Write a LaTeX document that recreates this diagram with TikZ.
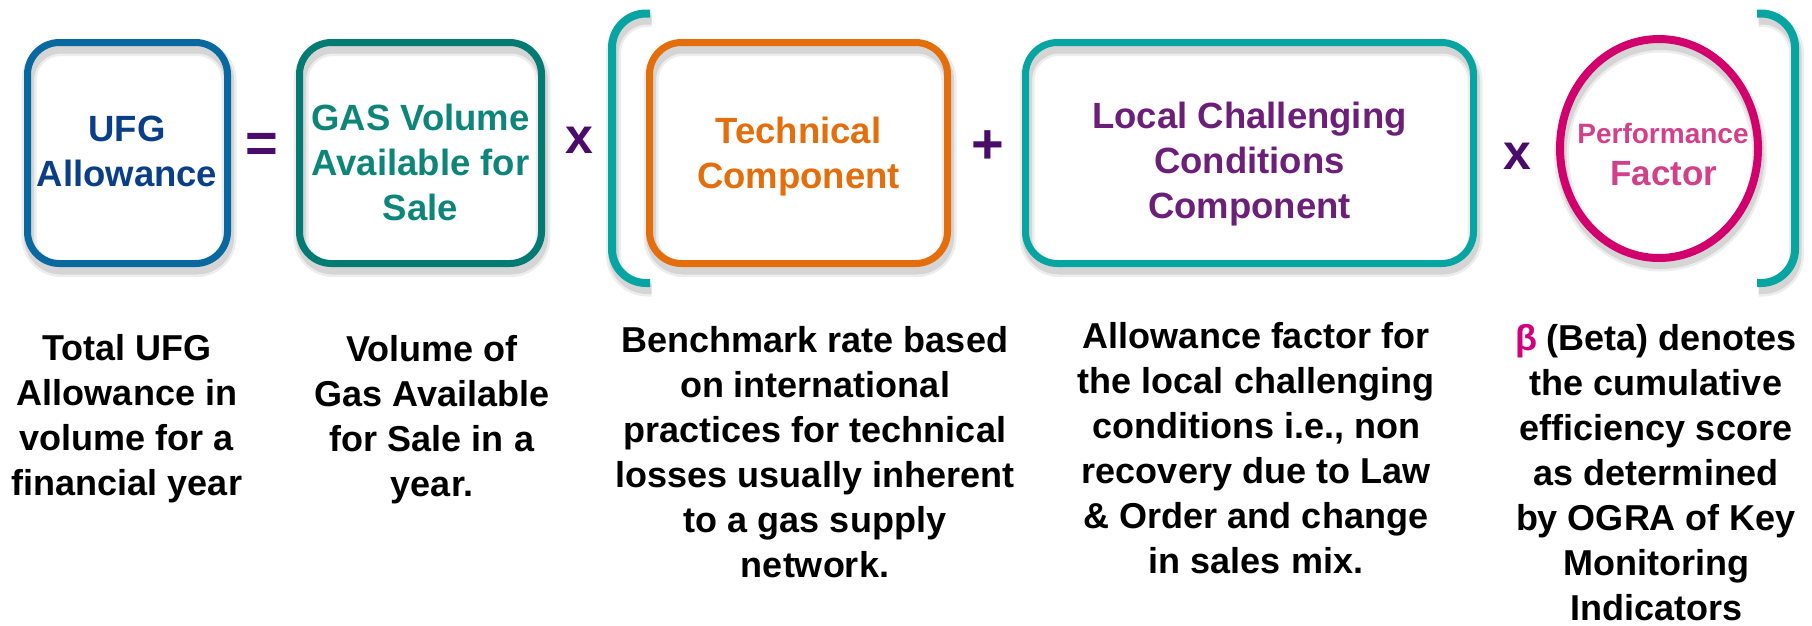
\documentclass[tikz,border=0pt]{standalone}
\usepackage{fontspec}
\setmainfont{Liberation Sans}
\usetikzlibrary{shapes.geometric}
\newcommand{\tstrut}{\rule{0pt}{0.8em}}
\definecolor{ufgblue}{HTML}{0A68A0}
\definecolor{ufgtext}{HTML}{0A3F88}
\definecolor{gasteal}{HTML}{037B73}
\definecolor{gastext}{HTML}{0E8579}
\definecolor{brteal}{HTML}{06A5A1}
\definecolor{techor}{HTML}{E46D0C}
\definecolor{lccpurp}{HTML}{6B1F79}
\definecolor{opurp}{HTML}{4A0C6B}
\definecolor{perfpink}{HTML}{D1006C}
\definecolor{perftext}{HTML}{D3408A}
\definecolor{betapink}{HTML}{D2007E}
\tikzset{
  shad/.style={
    preaction={draw=black,draw opacity=0.07,line width=15pt,transform canvas={shift={(1.5pt,-6pt)}}},
    preaction={draw=black,draw opacity=0.10,line width=10pt,transform canvas={shift={(1.5pt,-6pt)}}}},
  rbox/.style={shad,draw=#1,line width=7pt,rounded corners=32pt,inner sep=0pt,outer sep=0pt},
  brk/.style={shad,draw=brteal,line width=8pt,rounded corners=34pt},
  boxtxt/.style={anchor=north,inner sep=0pt,align=center,font=\fontsize{36.5}{45}\selectfont\bfseries,text=#1},
  desc/.style={anchor=north,inner sep=0pt,align=center,font=\fontsize{36}{45}\selectfont\bfseries,text=black},
  op/.style={inner sep=0pt,font=\fontsize{#1}{#1}\selectfont\bfseries,text=opurp},
}
\begin{document}
\begin{tikzpicture}[x=1pt,y=-1pt]
\useasboundingbox (0,0) rectangle (1812,625);
% boxes
\node[rbox=ufgblue,minimum width=200pt,minimum height=221pt] (ufg) at (127.5,153) {};
\node[rbox=gasteal,minimum width=242pt,minimum height=221pt] (gas) at (420.5,153) {};
\node[rbox=techor,minimum width=298pt,minimum height=221pt] (tech) at (798.5,153) {};
\node[rbox=brteal,minimum width=448pt,minimum height=221pt] (lcc) at (1249.5,153) {};
\node[shad,ellipse,draw=perfpink,line width=8pt,minimum width=198pt,minimum height=219pt,inner sep=0pt] (perf) at (1659,148.5) {};
% brackets
\draw[brk] (650,13.5) -- (612,13.5) -- (612,283) -- (650,283);
\draw[brk] (1757,13.5) -- (1795,13.5) -- (1795,283) -- (1757,283);
% box texts
\node[boxtxt=ufgtext] (ufgt) at (127,111.8) {\tstrut UFG\\Allowance};
\node[boxtxt=gastext] (gast) at (420.5,100.8) {\tstrut GAS Volume\\Available for\\Sale};
\node[boxtxt=techor] (techt) at (798.5,113.8) {\tstrut Technical\\Component};
\node[boxtxt=lccpurp] (lcct) at (1249.5,98.8) {\tstrut Local Challenging\\Conditions\\Component};
\node[anchor=base,inner sep=0pt,font=\fontsize{28}{30}\selectfont\bfseries,text=perftext] (perft) at (1663,143) {Performance};
\node[anchor=base,inner sep=0pt,font=\fontsize{35}{40}\selectfont\bfseries,text=perftext] (fact) at (1664,185) {Factor};
% operators
\node[op=56] (eq) at (262,148) {=};
\node[op=50] (x1) at (579.5,140) {x};
\node[op=56] (plus) at (988,147.5) {+};
\node[op=50] (x2) at (1517,156.5) {x};
% descriptions
\node[desc] (d1) at (127,331.2) {\tstrut Total UFG\\Allowance in\\volume for a\\financial year};
\node[desc] (d2) at (432,332.2) {\tstrut Volume of\\Gas Available\\for Sale in a\\year.};
\node[desc] (d3) at (815,323.2) {\tstrut Benchmark rate based\\on international\\practices for technical\\losses usually inherent\\to a gas supply\\network.};
\node[desc] (d4) at (1256,319.2) {\tstrut Allowance factor for\\the local challenging\\conditions i.e., non\\recovery due to Law\\\& Order and change\\in sales mix.};
\node[desc] (d5) at (1656,321.2) {\tstrut{\color{betapink}β} (Beta) denotes\\the cumulative\\efficiency score\\as determined\\by OGRA of Key\\Monitoring\\Indicators};
\end{tikzpicture}
\end{document}
